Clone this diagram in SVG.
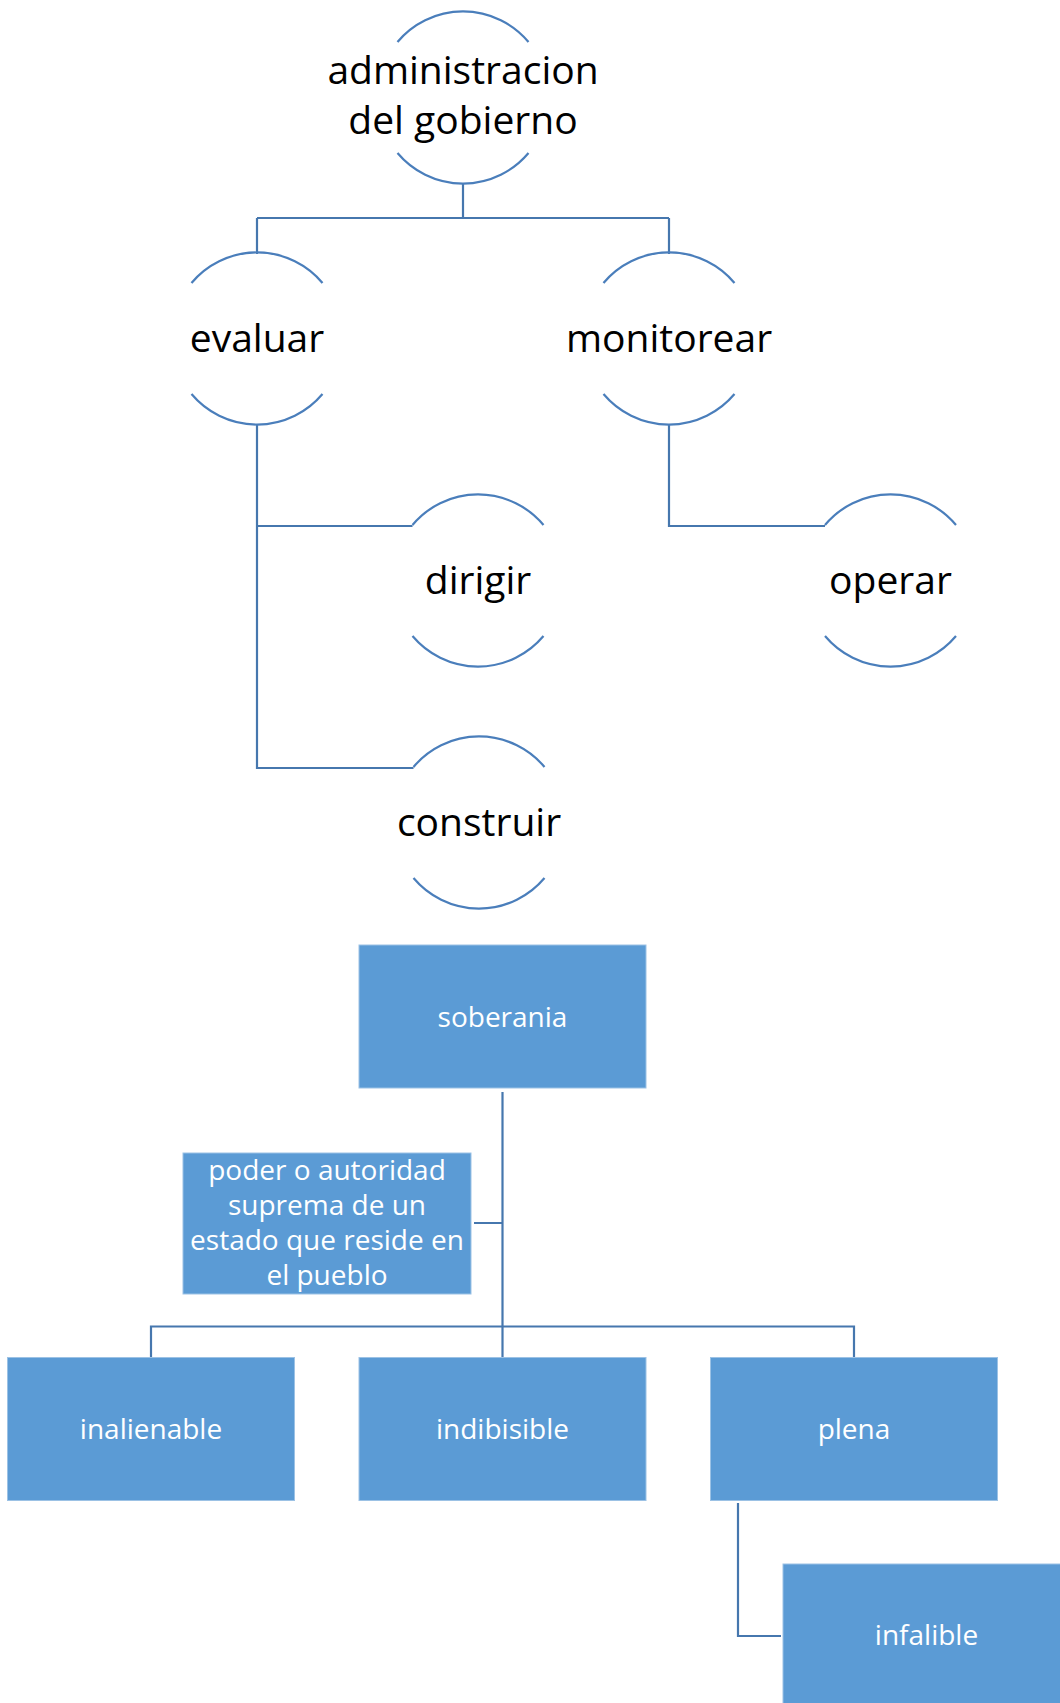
<svg xmlns="http://www.w3.org/2000/svg" width="1060" height="1703" viewBox="0 0 1060 1703">
<style>
.bg{fill:#ffffff}
.arc{fill:none;stroke:#4A7EBB;stroke-width:2.2}
.con{fill:none;stroke:#4677AE;stroke-width:2.2}
.ct{font-family:"Open Sans","Noto Sans",sans-serif;font-size:39px;fill:#000000;text-anchor:middle}
.box{fill:#5B9BD5;stroke:#9CC2E5;stroke-width:1}
.bt{font-family:"Open Sans","Noto Sans",sans-serif;font-size:28px;fill:#ffffff;text-anchor:middle}
</style>
<defs>
<path id="circ" d="M-65.5,-55.5 A85.5,85.5 0 0 1 65.5,-55.5 M-65.5,55.5 A85.5,85.5 0 0 0 65.5,55.5"/>
</defs>
<rect class="bg" x="0" y="0" width="1060" height="1703"/>
<g id="connectors">
<path class="con" d="M463,183 V218 M257,218 H669 M257,218 V254 M669,218 V254"/>
<path class="con" d="M257,424 V768 H413.5 M257,526 H412.5"/>
<path class="con" d="M669,424 V526 H825"/>
<path class="con" d="M502.5,1092 V1357.5 M151,1357.5 V1326.5 H854 V1357.5 M474,1223 H502.5"/>
<path class="con" d="M738,1503 V1636 H781"/>
</g>
<g id="n-administracion" transform="translate(463,97.5)">
<use href="#circ" class="arc"/>
<text class="ct" x="0" y="-13.5">administracion</text>
<text class="ct" x="0" y="36">del gobierno</text>
</g>
<g id="n-evaluar" transform="translate(257,338.5)">
<use href="#circ" class="arc"/>
<text class="ct" x="0" y="13.5">evaluar</text>
</g>
<g id="n-monitorear" transform="translate(669,338.5)">
<use href="#circ" class="arc"/>
<text class="ct" x="0" y="13.5">monitorear</text>
</g>
<g id="n-dirigir" transform="translate(478,580.5)">
<use href="#circ" class="arc"/>
<text class="ct" x="0" y="13">dirigir</text>
</g>
<g id="n-operar" transform="translate(890.5,580.5)">
<use href="#circ" class="arc"/>
<text class="ct" x="0" y="13">operar</text>
</g>
<g id="n-construir" transform="translate(479,822.5)">
<use href="#circ" class="arc"/>
<text class="ct" x="0" y="13">construir</text>
</g>
<g id="n-soberania">
<rect class="box" x="359" y="945" width="287" height="143"/>
<text class="bt" x="502.5" y="1027">soberania</text>
</g>
<g id="n-definicion">
<rect class="box" x="183" y="1153" width="288" height="141"/>
<text class="bt" x="327" y="1180">poder o autoridad</text>
<text class="bt" x="327" y="1215">suprema de un</text>
<text class="bt" x="327" y="1250">estado que reside en</text>
<text class="bt" x="327" y="1285">el pueblo</text>
</g>
<g id="n-inalienable">
<rect class="box" x="7.5" y="1357.5" width="287" height="143"/>
<text class="bt" x="151" y="1439">inalienable</text>
</g>
<g id="n-indibisible">
<rect class="box" x="359" y="1357.5" width="287" height="143"/>
<text class="bt" x="502.5" y="1439">indibisible</text>
</g>
<g id="n-plena">
<rect class="box" x="710.5" y="1357.5" width="287" height="143"/>
<text class="bt" x="854" y="1439">plena</text>
</g>
<g id="n-infalible">
<rect class="box" x="783" y="1564" width="287" height="143"/>
<text class="bt" x="926.5" y="1645">infalible</text>
</g>
</svg>
